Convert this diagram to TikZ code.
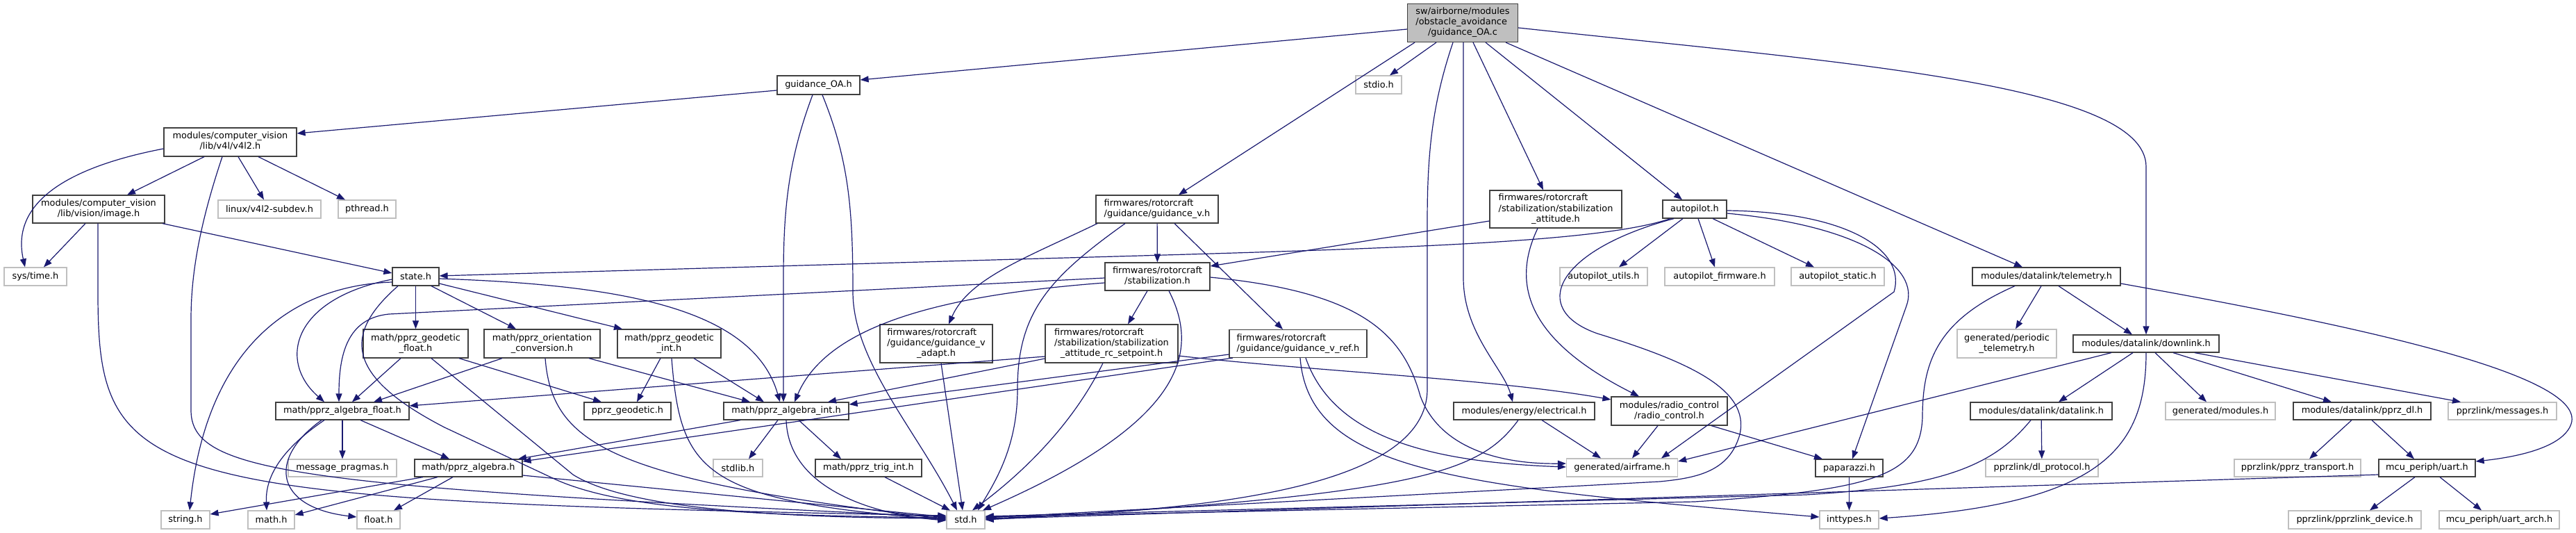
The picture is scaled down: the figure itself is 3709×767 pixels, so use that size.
\documentclass[tikz,border=0pt]{standalone}
\usepackage{fontspec}
\setmainfont{DejaVu Sans}
\usetikzlibrary{arrows.meta}
\definecolor{edgec}{HTML}{191970}
\definecolor{bordc}{HTML}{404040}
\definecolor{greyc}{HTML}{BFBFBF}
\newcommand\mlab[2]{\begin{tabular}{@{}l@{}}#1\\\multicolumn{1}{@{}c@{}}{#2}\end{tabular}}
\begin{document}
\begin{tikzpicture}[x=1pt,y=-1pt,font=\fontsize{12.9}{15}\selectfont,
  bx/.style={draw=bordc,line width=1.2pt,fill=white,inner sep=0pt},
  gx/.style={bx,draw=greyc},
  mainbx/.style={bx,fill=greyc},
  lnk/.style={draw=edgec,line width=1.2pt,-{Triangle[length=12pt,width=9pt]}}]
\fill[white] (0,0) rectangle (3709,767);
\useasboundingbox (0,0) rectangle (3709,767);
% nodes
\node[mainbx,minimum width=159,minimum height=55] (C) at (2106,33) {\mlab{sw/airborne/modules\\/obstacle\_avoidance}{/guidance\_OA.c}};
\node[bx,minimum width=119,minimum height=27] (goah) at (1178.5,122.5) {guidance\_OA.h};
\node[bx,minimum width=191,minimum height=41] (v4l2) at (331.5,204.5) {\mlab{modules/computer\_vision}{/lib/v4l/v4l2.h}};
\node[bx,minimum width=190,minimum height=40] (image) at (142,301) {\mlab{modules/computer\_vision}{/lib/vision/image.h}};
\node[gx,minimum width=148,minimum height=26] (subdev) at (388,301) {linux/v4l2-subdev.h};
\node[gx,minimum width=83,minimum height=26] (pthread) at (528.5,301) {pthread.h};
\node[gx,minimum width=90,minimum height=26] (systime) at (51,398) {sys/time.h};
\node[bx,minimum width=67,minimum height=26] (state) at (598.5,398) {state.h};
\node[bx,minimum width=151,minimum height=41] (geofl) at (598.5,494.5) {\mlab{math/pprz\_geodetic}{\_float.h}};
\node[bx,minimum width=167,minimum height=41] (orient) at (780.5,494.5) {\mlab{math/pprz\_orientation}{\_conversion.h}};
\node[bx,minimum width=149,minimum height=41] (geoint) at (963.5,494.5) {\mlab{math/pprz\_geodetic}{\_int.h}};
\node[bx,minimum width=192,minimum height=25] (algfl) at (493,591.5) {math/pprz\_algebra\_float.h};
\node[bx,minimum width=125,minimum height=25] (geo) at (903.5,591.5) {pprz\_geodetic.h};
\node[bx,minimum width=180,minimum height=25] (algint) at (1132,591.5) {math/pprz\_algebra\_int.h};
\node[gx,minimum width=156,minimum height=25] (msgpr) at (493,673.5) {message\_pragmas.h};
\node[bx,minimum width=155,minimum height=25] (alg) at (674.5,673.5) {math/pprz\_algebra.h};
\node[gx,minimum width=71,minimum height=25] (stdlib) at (1062.5,673.5) {stdlib.h};
\node[bx,minimum width=153,minimum height=25] (trig) at (1250.5,673.5) {math/pprz\_trig\_int.h};
\node[gx,minimum width=70,minimum height=26] (string) at (267,748) {string.h};
\node[gx,minimum width=67,minimum height=26] (math) at (390.5,748) {math.h};
\node[gx,minimum width=62,minimum height=26] (float) at (545,748) {float.h};
\node[gx,minimum width=55,minimum height=26] (std) at (1390.5,748) {std.h};
\node[gx,minimum width=66,minimum height=26] (stdio) at (1985,122) {stdio.h};
\node[bx,minimum width=176,minimum height=40] (gv) at (1666,301) {\mlab{firmwares/rotorcraft}{/guidance/guidance\_v.h}};
\node[bx,minimum width=190,minimum height=54] (satt) at (2240,301) {\mlab{firmwares/rotorcraft\\/stabilization/stabilization}{\_attitude.h}};
\node[bx,minimum width=92,minimum height=26] (ap) at (2440,301) {autopilot.h};
\node[bx,minimum width=151,minimum height=40] (stab) at (1666.5,398) {\mlab{firmwares/rotorcraft}{/stabilization.h}};
\node[bx,minimum width=162,minimum height=55] (gvad) at (1348,494.5) {\mlab{firmwares/rotorcraft\\/guidance/guidance\_v}{\_adapt.h}};
\node[bx,minimum width=191,minimum height=55] (src) at (1600.5,494.5) {\mlab{firmwares/rotorcraft\\/stabilization/stabilization}{\_attitude\_rc\_setpoint.h}};
\node[bx,minimum width=198,minimum height=40] (gvref) at (1869,494.5) {\mlab{firmwares/rotorcraft}{/guidance/guidance\_v\_ref.h}};
\node[bx,minimum width=203,minimum height=25] (elec) at (2194.5,591.5) {modules/energy/electrical.h};
\node[bx,minimum width=167,minimum height=41] (rc) at (2403.5,591.5) {\mlab{modules/radio\_control}{/radio\_control.h}};
\node[gx,minimum width=160,minimum height=26] (airframe) at (2335.5,673) {generated/airframe.h};
\node[gx,minimum width=126,minimum height=26] (aputil) at (2309,398) {autopilot\_utils.h};
\node[gx,minimum width=158,minimum height=26] (apfw) at (2476,398) {autopilot\_firmware.h};
\node[gx,minimum width=134,minimum height=26] (apst) at (2646,398) {autopilot\_static.h};
\node[bx,minimum width=97,minimum height=25] (pap) at (2662.5,673.5) {paparazzi.h};
\node[gx,minimum width=85,minimum height=26] (intt) at (2662.5,748) {inttypes.h};
\node[bx,minimum width=213,minimum height=26] (telem) at (2946.5,398) {modules/datalink/telemetry.h};
\node[gx,minimum width=143,minimum height=41] (pertel) at (2889.5,494.5) {\mlab{generated/periodic}{\_telemetry.h}};
\node[bx,minimum width=210,minimum height=25] (down) at (3090,494.5) {modules/datalink/downlink.h};
\node[bx,minimum width=204,minimum height=25] (dl) at (2939,591.5) {modules/datalink/datalink.h};
\node[gx,minimum width=158,minimum height=25] (genmod) at (3197,591.5) {generated/modules.h};
\node[bx,minimum width=198,minimum height=25] (pprzdl) at (3401,591.5) {modules/datalink/pprz\_dl.h};
\node[gx,minimum width=156,minimum height=25] (msgs) at (3603,591.5) {pprzlink/messages.h};
\node[gx,minimum width=162,minimum height=25] (dlprot) at (2940,673.5) {pprzlink/dl\_protocol.h};
\node[gx,minimum width=182,minimum height=25] (transp) at (3308,673.5) {pprzlink/pprz\_transport.h};
\node[bx,minimum width=139,minimum height=25] (uart) at (3494.5,673.5) {mcu\_periph/uart.h};
\node[gx,minimum width=191,minimum height=26] (device) at (3390.5,748) {pprzlink/pprzlink\_device.h};
\node[gx,minimum width=173,minimum height=26] (uartarch) at (3598.5,748) {mcu\_periph/uart\_arch.h};
% edges from guidance_OA.c
\draw[lnk] (C.west |- 0,42) -- (goah.east |- 0,115);
\draw[lnk] (C.south -| 2068,0) -- (stdio.north -| 2001,0);
\draw[lnk] (C.south -| 2037,0) -- (gv.north -| 1697,0);
\draw[lnk] (C.south -| 2092,0) .. controls (2062,150) and (2055,220) .. (2055,320) -- (2055,560) .. controls (2055,700) and (1750,735) .. (std.east |- 0,746);
\draw[lnk] (C.south -| 2107,0) -- (2107,400) .. controls (2107,480) and (2165,530) .. (elec.north -| 2178,0);
\draw[lnk] (C.south -| 2121,0) -- (satt.north -| 2222,0);
\draw[lnk] (C.south -| 2139,0) -- (ap.north -| 2422,0);
\draw[lnk] (C.south -| 2168,0) -- (telem.north -| 2912,0);
\draw[lnk] (C.east |- 0,40) .. controls (2650,90) and (3090,120) .. (3090,240) -- (down.north -| 3090,0);
% guidance_OA.h
\draw[lnk] (goah.west |- 0,130) -- (v4l2.east |- 0,192);
\draw[lnk] (goah.south -| 1170,0) .. controls (1135,230) and (1128,300) .. (1128,400) -- (algint.north -| 1128,0);
\draw[lnk] (goah.south -| 1184,0) .. controls (1222,230) and (1228,300) .. (1228,420) .. controls (1228,520) and (1320,620) .. (std.north -| 1378,0);
% v4l2.h
\draw[lnk] (v4l2.west |- 0,214) .. controls (100,240) and (15,290) .. (systime.north -| 36,0);
\draw[lnk] (v4l2.south -| 294,0) -- (image.north -| 183,0);
\draw[lnk] (v4l2.south -| 343,0) -- (subdev.north -| 380,0);
\draw[lnk] (v4l2.south -| 372,0) -- (pthread.north -| 497,0);
\draw[lnk] (v4l2.south -| 320,0) .. controls (285,330) and (275,400) .. (275,460) -- (275,590) .. controls (275,680) and (420,700) .. (std.west |- 0,744);
% image.h
\draw[lnk] (image.south -| 123,0) -- (systime.north -| 63,0);
\draw[lnk] (image.south -| 234,0) -- (state.west |- 0,393);
\draw[lnk] (image.south -| 141,0) -- (141,421) .. controls (141,700) and (200,720) .. (std.west |- 0,742);
% state.h
\draw[lnk] (state) -- (geofl);
\draw[lnk] (state.south -| 621,0) -- (orient.north -| 743,0);
\draw[lnk] (state.east |- 0,408) -- (geoint.north -| 896,0);
\draw[lnk] (state.east |- 0,401) .. controls (900,410) and (1085,445) .. (algint.north -| 1123,0);
\draw[lnk] (state.west |- 0,402) .. controls (420,430) and (400,520) .. (algfl.north -| 467,0);
\draw[lnk] (state.west |- 0,406) .. controls (440,410) and (300,480) .. (string.north -| 273,0);
\draw[lnk] (state.south -| 573,0) .. controls (495,480) and (495,540) .. (640,615) -- (800,690) .. controls (900,735) and (1100,742) .. (std.west |- 0,745);
% geodetic float / orientation / geodetic int
\draw[lnk] (geofl.south -| 577,0) -- (algfl.north -| 507,0);
\draw[lnk] (geofl.south -| 661,0) -- (geo.north -| 866,0);
\draw[lnk] (geofl.south -| 621,0) -- (825,683) .. controls (900,730) and (1100,745) .. (std.west |- 0,746);
\draw[lnk] (orient.south -| 723,0) -- (algfl.north -| 538,0);
\draw[lnk] (orient.south -| 848,0) -- (algint.north -| 1080,0);
\draw[lnk] (orient.south -| 785,0) .. controls (795,640) and (880,690) .. (std.west |- 0,747);
\draw[lnk] (geoint.south -| 951,0) -- (geo.north -| 917,0);
\draw[lnk] (geoint.south -| 999,0) -- (algint.north -| 1100,0);
\draw[lnk] (geoint.south -| 967,0) .. controls (980,680) and (1010,720) .. (std.west |- 0,748);
% algebra float
\draw[lnk] (algfl) -- (msgpr);
\draw[lnk] (algfl.south -| 519,0) -- (alg.north -| 647,0);
\draw[lnk] (algfl.south -| 467,0) .. controls (400,650) and (382,690) .. (math.north -| 384,0);
\draw[lnk] (algfl.south -| 463,0) .. controls (385,660) and (395,730) .. (float.west |- 0,744);
% algebra
\draw[lnk] (alg.south -| 609,0) -- (string.east |- 0,740);
\draw[lnk] (alg.south -| 630,0) -- (math.east |- 0,741);
\draw[lnk] (alg.south -| 652,0) -- (float.north -| 567,0);
\draw[lnk] (alg.east |- 0,684) -- (std.west |- 0,744);
% algebra int
\draw[lnk] (algint.south -| 1066,0) -- (alg.north -| 746,0);
\draw[lnk] (algint.south -| 1120,0) -- (stdlib.north -| 1078,0);
\draw[lnk] (algint.south -| 1150,0) -- (trig.north -| 1211,0);
\draw[lnk] (algint.south -| 1132,0) .. controls (1135,700) and (1250,740) .. (std.west |- 0,749);
\draw[lnk] (trig.south -| 1274,0) -- (std.north -| 1368,0);
% guidance_v.h
\draw[lnk] (gv) -- (stab);
\draw[lnk] (gv.south -| 1580,0) .. controls (1480,370) and (1395,400) .. (gvad.north -| 1366,0);
\draw[lnk] (gv.south -| 1620,0) .. controls (1510,400) and (1465,450) .. (1465,560) .. controls (1465,640) and (1435,690) .. (std.north -| 1408,0);
\draw[lnk] (gv.south -| 1691,0) -- (gvref.north -| 1847,0);
% stabilization.h
\draw[lnk] (stab.south -| 1652,0) -- (src.north -| 1624,0);
\draw[lnk] (stab.south -| 1683,0) .. controls (1730,510) and (1700,610) .. (std.north -| 1415,0);
\draw[lnk] (stab.east |- 0,399) .. controls (1960,420) and (2020,480) .. (2045,570) .. controls (2075,650) and (2170,668) .. (airframe.west |- 0,667);
\draw[lnk] (stab.west |- 0,400) -- (560,452) .. controls (500,458) and (488,510) .. (algfl.north -| 488,0);
\draw[lnk] (stab.west |- 0,407) .. controls (1350,425) and (1190,470) .. (algint.north -| 1144,0);
% adapt / rc setpoint / v_ref
\draw[lnk] (gvad.south -| 1355,0) -- (std.north -| 1386,0);
\draw[lnk] (src.south -| 1588,0) .. controls (1540,620) and (1460,690) .. (std.north -| 1400,0);
\draw[lnk] (src.east |- 0,512) .. controls (1900,535) and (2150,545) .. (rc.west |- 0,575);
\draw[lnk] (src.west |- 0,513) -- (algfl.east |- 0,584);
\draw[lnk] (src.west |- 0,516) -- (algint.north -| 1192,0);
\draw[lnk] (gvref.west |- 0,510) -- (algint.east |- 0,582);
\draw[lnk] (gvref.south -| 1775,0) -- (alg.east |- 0,664);
\draw[lnk] (gvref.south -| 1880,0) .. controls (1920,630) and (2060,665) .. (airframe.west |- 0,672);
\draw[lnk] (gvref.south -| 1872,0) .. controls (1885,680) and (2100,700) .. (intt.west |- 0,744);
% stabilization_attitude.h
\draw[lnk] (satt.west |- 0,318) -- (stab.east |- 0,383);
\draw[lnk] (satt.south -| 2214,0) .. controls (2175,410) and (2200,490) .. (rc.north -| 2360,0);
% autopilot.h
\draw[lnk] (ap.south -| 2405,0) .. controls (2300,350) and (2000,358) .. (1500,372) -- (state.east |- 0,397);
\draw[lnk] (ap.south -| 2423,0) -- (aputil.north -| 2331,0);
\draw[lnk] (ap.south -| 2445,0) -- (apfw.north -| 2469,0);
\draw[lnk] (ap.south -| 2466,0) -- (apst.north -| 2612,0);
\draw[lnk] (ap.south -| 2410,0) .. controls (2240,360) and (2200,445) .. (2300,480) .. controls (2430,520) and (2520,560) .. (2505,625) .. controls (2490,680) and (2440,688) .. (2390,693) -- (std.east |- 0,745);
\draw[lnk] (ap.east |- 0,303) .. controls (2660,305) and (2745,360) .. (2727,420) -- (airframe.north -| 2392,0);
\draw[lnk] (ap.east |- 0,307) .. controls (2680,325) and (2765,385) .. (2745,440) -- (pap.north -| 2667,0);
% telemetry.h
\draw[lnk] (telem.south -| 2939,0) -- (pertel.north -| 2902,0);
\draw[lnk] (telem.south -| 2964,0) -- (down.north -| 3070,0);
\draw[lnk] (telem.east |- 0,408) .. controls (3400,470) and (3725,540) .. (3702,610) .. controls (3690,645) and (3620,658) .. (uart.east |- 0,664);
\draw[lnk] (telem.south -| 2901,0) .. controls (2790,460) and (2768,520) .. (2768,600) .. controls (2765,685) and (2700,705) .. (2440,722) -- (std.east |- 0,744);
% downlink.h
\draw[lnk] (down.south -| 3040,0) -- (airframe.east |- 0,664);
\draw[lnk] (down.south -| 3071,0) -- (dl.north -| 2964,0);
\draw[lnk] (down.south -| 3103,0) -- (genmod.north -| 3177,0);
\draw[lnk] (down.south -| 3129,0) -- (pprzdl.north -| 3357,0);
\draw[lnk] (down.south -| 3160,0) -- (msgs.north -| 3543,0);
\draw[lnk] (down.south -| 3090,0) .. controls (3090,650) and (3020,725) .. (intt.east |- 0,746);
% datalink.h, pprz_dl.h, uart.h
\draw[lnk] (dl) -- (dlprot);
\draw[lnk] (dl.south -| 2924,0) .. controls (2870,670) and (2800,700) .. (2600,712) -- (std.east |- 0,743);
\draw[lnk] (pprzdl.south -| 3386,0) -- (transp.north -| 3325,0);
\draw[lnk] (pprzdl.south -| 3415,0) -- (uart.north -| 3476,0);
\draw[lnk] (uart.west |- 0,683) -- (std.east |- 0,747);
\draw[lnk] (uart.south -| 3477,0) -- (device.north -| 3412,0);
\draw[lnk] (uart.south -| 3513,0) -- (uartarch.north -| 3573,0);
% electrical.h, radio_control.h, paparazzi.h
\draw[lnk] (elec.south -| 2220,0) -- (airframe.north -| 2305,0);
\draw[lnk] (elec.south -| 2186,0) .. controls (2130,680) and (2050,712) .. (std.east |- 0,748);
\draw[lnk] (rc.south -| 2387,0) -- (airframe.north -| 2350,0);
\draw[lnk] (rc.south -| 2464,0) -- (pap.north -| 2624,0);
\draw[lnk] (pap) -- (intt);
\end{tikzpicture}
\end{document}
